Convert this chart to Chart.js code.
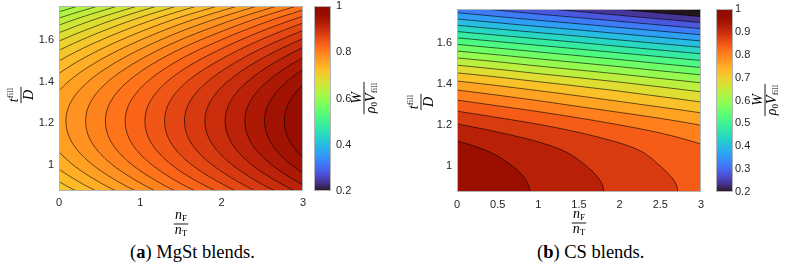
<!DOCTYPE html>
<html>
<head>
<meta charset="utf-8">
<script src="https://cdn.jsdelivr.net/npm/chart.js@4.4.1/dist/chart.umd.min.js"></script>
<style>
  body { margin: 0; background: #fff; width: 787px; height: 271px; position: relative; overflow: hidden; }
  canvas { position: absolute; top: 0; }
  #chartA { left: 0; }
  #chartB { left: 393px; }
  .cap { position: absolute; top: 242px; font-family: "Liberation Serif", serif; font-size: 18.5px; color: #000; white-space: nowrap; }
</style>
</head>
<body>
<canvas id="chartA" width="393" height="240"></canvas>
<canvas id="chartB" width="394" height="240"></canvas>
<div class="cap" style="left:130px">(<b>a</b>) MgSt blends.</div>
<div class="cap" style="left:537px">(<b>b</b>) CS blends.</div>
<script>
// grid of n_F/n_T (columns) and t_fill/D (rows), values W/(rho0 Vfill)
const nGrid = [0, 0.5, 1, 1.5, 2, 2.5, 3];
const tGrid = [0.8, 0.9, 1.0, 1.1, 1.2, 1.3, 1.4, 1.5, 1.6, 1.7, 1.8];

const wMgSt = [
  [0.685, 0.720, 0.755, 0.790, 0.824, 0.859, 0.894],
  [0.723, 0.758, 0.793, 0.828, 0.862, 0.897, 0.932],
  [0.751, 0.786, 0.821, 0.856, 0.890, 0.925, 0.960],
  [0.768, 0.803, 0.838, 0.873, 0.907, 0.942, 0.977],
  [0.774, 0.809, 0.844, 0.879, 0.913, 0.948, 0.983],
  [0.770, 0.805, 0.840, 0.875, 0.909, 0.944, 0.979],
  [0.755, 0.790, 0.825, 0.860, 0.894, 0.929, 0.964],
  [0.729, 0.764, 0.799, 0.834, 0.868, 0.903, 0.938],
  [0.693, 0.728, 0.763, 0.798, 0.832, 0.867, 0.902],
  [0.647, 0.682, 0.717, 0.752, 0.786, 0.821, 0.856],
  [0.589, 0.624, 0.659, 0.694, 0.728, 0.763, 0.798]
];

const wCS = [
  [0.997, 0.975, 0.953, 0.931, 0.909, 0.887, 0.865],
  [0.999, 0.977, 0.955, 0.933, 0.911, 0.889, 0.867],
  [0.990, 0.968, 0.946, 0.924, 0.902, 0.880, 0.858],
  [0.968, 0.947, 0.926, 0.905, 0.884, 0.863, 0.842],
  [0.923, 0.902, 0.882, 0.861, 0.840, 0.820, 0.799],
  [0.856, 0.835, 0.814, 0.792, 0.771, 0.750, 0.729],
  [0.773, 0.752, 0.730, 0.709, 0.688, 0.666, 0.645],
  [0.670, 0.648, 0.625, 0.603, 0.581, 0.558, 0.536],
  [0.550, 0.527, 0.504, 0.481, 0.457, 0.434, 0.411],
  [0.420, 0.396, 0.372, 0.349, 0.325, 0.301, 0.277],
  [0.290, 0.265, 0.239, 0.214, 0.188, 0.163, 0.137]
];

const levelsMgSt = [0.610, 0.627, 0.644, 0.661, 0.678, 0.695, 0.712, 0.729, 0.746, 0.763, 0.780,
  0.797, 0.814, 0.831, 0.848, 0.865, 0.882, 0.899, 0.916, 0.933, 0.950, 0.967, 0.984];
const levelsCS = [0.20, 0.24, 0.28, 0.32, 0.36, 0.40, 0.44, 0.48, 0.52, 0.56, 0.60,
  0.64, 0.68, 0.72, 0.76, 0.80, 0.84, 0.88, 0.92, 0.96, 1.00];

const xTicksMgSt = [0, 1, 2, 3];
const xTicksCS = [0, 0.5, 1, 1.5, 2, 2.5, 3];
const yTicks = [1, 1.2, 1.4, 1.6];
const cbTicksMgSt = [0.2, 0.4, 0.6, 0.8, 1];
const cbTicksCS = [0.2, 0.3, 0.4, 0.5, 0.6, 0.7, 0.8, 0.9, 1];
const clim = [0.2, 1];

const tickFont = { family: '"Liberation Sans", Arial, sans-serif', size: 11, lineHeight: 1 };
const tickColor = '#262626';
const boxColor = '#b4b4b4';

function turbo(x) {
  x = Math.min(1, Math.max(0, x));
  const x2 = x * x, x3 = x2 * x, x4 = x3 * x, x5 = x4 * x;
  const r = 0.13572138 + 4.61539260 * x - 42.66032258 * x2 + 132.13108234 * x3 - 152.94239396 * x4 + 59.28637943 * x5;
  const g = 0.09140261 + 2.19418839 * x + 4.84296658 * x2 - 14.18503333 * x3 + 4.27729857 * x4 + 2.82956604 * x5;
  const b = 0.10667330 + 12.64194608 * x - 60.58204836 * x2 + 110.36276771 * x3 - 89.90310912 * x4 + 27.34824973 * x5;
  return [r, g, b].map(c => Math.round(255 * Math.min(1, Math.max(0, c))));
}

function gridVal(W, i, j) {
  const ni = W[0].length, nj = W.length;
  if (j < 0) return 2 * gridVal(W, i, 0) - gridVal(W, i, 1);
  if (j >= nj) return 2 * gridVal(W, i, nj - 1) - gridVal(W, i, nj - 2);
  if (i < 0) return 2 * W[j][0] - W[j][1];
  if (i >= ni) return 2 * W[j][ni - 1] - W[j][ni - 2];
  return W[j][i];
}

function cubic(p0, p1, p2, p3, s) {
  return p1 + 0.5 * s * (p2 - p0 + s * (2 * p0 - 5 * p1 + 4 * p2 - p3 + s * (3 * (p1 - p2) + p3 - p0)));
}

// smooth lookup between the read grid points
function fieldAt(W, n, t) {
  const fi = (n - nGrid[0]) / (nGrid[1] - nGrid[0]);
  const fj = (t - tGrid[0]) / (tGrid[1] - tGrid[0]);
  const i = Math.min(Math.max(Math.floor(fi), 0), nGrid.length - 2);
  const j = Math.min(Math.max(Math.floor(fj), 0), tGrid.length - 2);
  const s = fi - i, u = fj - j;
  const r = [];
  for (let k = -1; k <= 2; k++) {
    r.push(cubic(gridVal(W, i - 1, j + k), gridVal(W, i, j + k), gridVal(W, i + 1, j + k), gridVal(W, i + 2, j + k), s));
  }
  return cubic(r[0], r[1], r[2], r[3], u);
}

function runs(ctx, list, cx, baseY) {
  let w = 0;
  list.forEach(r => { ctx.font = r.f; w += ctx.measureText(r.t).width; });
  let x = cx - w / 2;
  list.forEach(r => { ctx.font = r.f; ctx.fillText(r.t, x, baseY + (r.dy || 0)); x += ctx.measureText(r.t).width; });
  return w;
}

function fraction(ctx, cx, cy, angle, num, den, numY, denY) {
  ctx.save();
  ctx.translate(cx, cy);
  ctx.rotate(angle);
  ctx.textBaseline = 'alphabetic';
  ctx.fillStyle = '#000';
  const w1 = runs(ctx, num, 0, numY);
  const w2 = runs(ctx, den, 0, denY);
  const L = Math.max(w1, w2) + 2;
  ctx.fillRect(-L / 2, -0.45, L, 0.9);
  ctx.restore();
}

const it = '"Liberation Serif", serif';
const mainF = 'italic 14px ' + it;
const subF = '9px ' + it;

function makeContour(cfg) {
  return {
    id: 'contour',
    beforeDatasetsDraw(chart) {
      const ctx = chart.ctx, xs = chart.scales.x, ys = chart.scales.y;
      const a = chart.chartArea;
      const x0 = Math.round(a.left), y0 = Math.round(a.top);
      const w = Math.round(a.right) - x0, h = Math.round(a.bottom) - y0;
      const lv = cfg.levels;

      // filled bands
      const off = document.createElement('canvas');
      off.width = w; off.height = h;
      const octx = off.getContext('2d');
      const img = octx.createImageData(w, h);
      for (let py = 0; py < h; py++) {
        const t = ys.getValueForPixel(y0 + py + 0.5);
        for (let px = 0; px < w; px++) {
          const v = fieldAt(cfg.grid, xs.getValueForPixel(x0 + px + 0.5), t);
          let k = -1;
          while (k + 1 < lv.length && v >= lv[k + 1]) k++;
          const base = k >= 0 ? lv[k] : lv[0] - (lv[1] - lv[0]);
          const c = turbo((base - clim[0]) / (clim[1] - clim[0]));
          const o = (py * w + px) * 4;
          img.data[o] = c[0]; img.data[o + 1] = c[1]; img.data[o + 2] = c[2]; img.data[o + 3] = 255;
        }
      }
      octx.putImageData(img, 0, 0);
      ctx.drawImage(off, x0, y0);

      // contour lines, marching squares on the pixel corners
      const cols = w + 1, F = new Float64Array((w + 1) * (h + 1));
      for (let py = 0; py <= h; py++) {
        const t = ys.getValueForPixel(y0 + py);
        for (let px = 0; px <= w; px++) F[py * cols + px] = fieldAt(cfg.grid, xs.getValueForPixel(x0 + px), t);
      }
      ctx.save();
      ctx.beginPath();
      ctx.rect(x0, y0, w, h);
      ctx.clip();
      ctx.beginPath();
      lv.forEach(L => {
        for (let py = 0; py < h; py++) {
          for (let px = 0; px < w; px++) {
            const a0 = F[py * cols + px], a1 = F[py * cols + px + 1];
            const a2 = F[(py + 1) * cols + px + 1], a3 = F[(py + 1) * cols + px];
            const pts = [];
            if ((a0 < L) !== (a1 < L)) pts.push([px + (L - a0) / (a1 - a0), py]);
            if ((a1 < L) !== (a2 < L)) pts.push([px + 1, py + (L - a1) / (a2 - a1)]);
            if ((a3 < L) !== (a2 < L)) pts.push([px + (L - a3) / (a2 - a3), py + 1]);
            if ((a0 < L) !== (a3 < L)) pts.push([px, py + (L - a0) / (a3 - a0)]);
            for (let q = 0; q + 1 < pts.length; q += 2) {
              ctx.moveTo(x0 + pts[q][0], y0 + pts[q][1]);
              ctx.lineTo(x0 + pts[q + 1][0], y0 + pts[q + 1][1]);
            }
          }
        }
      });
      ctx.lineWidth = 0.7;
      ctx.strokeStyle = 'rgba(0,0,0,0.85)';
      ctx.stroke();
      ctx.restore();
    },
    afterDraw(chart) {
      const ctx = chart.ctx, a = chart.chartArea, cs = chart.scales.c;
      ctx.save();
      ctx.strokeStyle = boxColor;
      ctx.lineWidth = 1;
      ctx.strokeRect(Math.round(a.left) + 0.5, Math.round(a.top) + 0.5, Math.round(a.right - a.left) - 1, Math.round(a.bottom - a.top) - 1);

      // colour bar
      const bx = Math.round(cs.left + cfg.cbGap), bw = 17;
      const top = Math.round(cs.top), bot = Math.round(cs.bottom);
      for (let py = top; py < bot; py++) {
        const c = turbo((cs.getValueForPixel(py + 0.5) - clim[0]) / (clim[1] - clim[0]));
        ctx.fillStyle = 'rgb(' + c.join(',') + ')';
        ctx.fillRect(bx, py, bw, 1);
      }
      ctx.strokeRect(bx + 0.5, top + 0.5, bw - 1, bot - top - 1);

      // axis labels
      fraction(ctx, cfg.xLab[0], cfg.xLab[1], 0,
        [{ t: 'n', f: mainF }, { t: 'F', f: subF, dy: 2 }],
        [{ t: 'n', f: mainF }, { t: 'T', f: subF, dy: 2 }], -5, 10);
      fraction(ctx, cfg.yLab[0], cfg.yLab[1], -Math.PI / 2,
        [{ t: 't', f: mainF }, { t: 'fill', f: subF, dy: -5 }],
        [{ t: 'D', f: mainF }], -3, 12);
      fraction(ctx, cfg.cLab[0], cfg.cLab[1], -Math.PI / 2,
        [{ t: 'W', f: mainF }],
        [{ t: 'ρ', f: mainF }, { t: '0', f: subF, dy: 2 }, { t: 'V', f: mainF }, { t: 'fill', f: subF, dy: 2 }], -3, 11);
      ctx.restore();
    }
  };
}

// tick offsets go through tickLength (tick marks stay hidden with grid.display false),
// because ticks.padding also pushes the plot box down
function makePanel(id, cfg) {
  const fmt = v => String(+Number(v).toFixed(3));
  return new Chart(document.getElementById(id), {
    type: 'scatter',
    data: { datasets: [] },
    options: {
      responsive: false,
      animation: false,
      events: [],
      layout: { autoPadding: false, padding: { top: cfg.top, left: 0, right: 0, bottom: 0 } },
      plugins: { legend: { display: false }, tooltip: { enabled: false } },
      scales: {
        x: {
          type: 'linear', min: 0, max: 3,
          grid: { display: false, drawTicks: true, tickLength: cfg.xPad }, border: { display: false },
          ticks: { padding: 0, font: tickFont, color: tickColor, maxRotation: 0, callback: fmt },
          afterBuildTicks: s => { s.ticks = cfg.xTicks.map(v => ({ value: v })); },
          afterFit: s => { s.height = cfg.xH; }
        },
        y: {
          type: 'linear', min: 0.874, max: 1.764,
          grid: { display: false, drawTicks: true, tickLength: 5 }, border: { display: false },
          ticks: { padding: 0, font: tickFont, color: tickColor, callback: fmt },
          afterBuildTicks: s => { s.ticks = yTicks.map(v => ({ value: v })); },
          afterFit: s => { s.width = cfg.yW; }
        },
        c: {
          type: 'linear', axis: 'y', position: 'right', min: clim[0], max: clim[1],
          grid: { display: false, drawTicks: true, tickLength: cfg.cPad }, border: { display: false },
          ticks: { padding: 0, font: tickFont, color: tickColor, callback: fmt },
          afterBuildTicks: s => { s.ticks = cfg.cbTicks.map(v => ({ value: v })); },
          afterFit: s => { s.width = cfg.cW; }
        }
      }
    },
    plugins: [makeContour(cfg)]
  });
}

makePanel('chartA', {
  grid: wMgSt, levels: levelsMgSt, xTicks: xTicksMgSt, cbTicks: cbTicksMgSt,
  top: 6, xH: 49, yW: 59, cW: 90, xPad: 6, cPad: 33, cbGap: 11,
  xLab: [181, 224], yLab: [21, 95], cLab: [364, 98]
});

makePanel('chartB', {
  grid: wCS, levels: levelsCS, xTicks: xTicksCS, cbTicks: cbTicksCS,
  top: 9, xH: 48, yW: 64, cW: 86, xPad: 7, cPad: 34, cbGap: 15,
  xLab: [186, 223], yLab: [28, 102], cLab: [372, 100]
});
</script>
</body>
</html>
